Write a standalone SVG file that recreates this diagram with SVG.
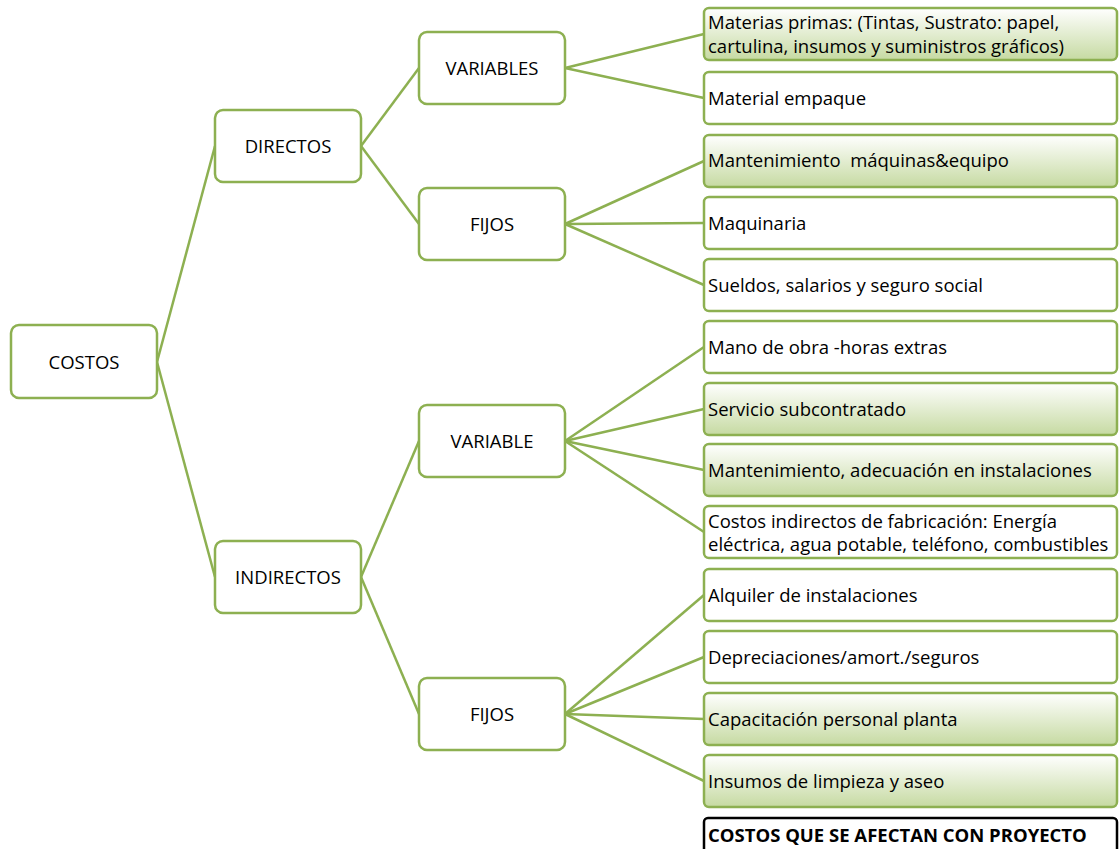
<svg xmlns="http://www.w3.org/2000/svg" width="1120" height="849" viewBox="0 0 1120 849">
<defs>
<linearGradient id="g" x1="0" y1="0" x2="0" y2="1">
<stop offset="0" stop-color="#FFFFFF"/>
<stop offset="1" stop-color="#C6DAA2"/>
</linearGradient>
<style>
.b{fill:#fff;stroke:#8DB051;stroke-width:2.5}
.gr{fill:url(#g);stroke:#8DB051;stroke-width:2.5}
.t{font-family:"Open Sans","Liberation Sans",sans-serif;font-size:18.5px;fill:#000}
.c{text-anchor:middle}
.ln{stroke:#8DB051;stroke-width:2.5;fill:none}
</style>
</defs>
<rect width="1120" height="849" fill="#fff"/>
<g id="connectors" class="ln">
<line x1="157" y1="362" x2="215" y2="146"/>
<line x1="157" y1="362" x2="215" y2="577"/>
<line x1="361" y1="146" x2="419" y2="68"/>
<line x1="361" y1="146" x2="419" y2="224"/>
<line x1="361" y1="577" x2="419" y2="441"/>
<line x1="361" y1="577" x2="419" y2="714"/>
<line x1="565" y1="68" x2="704" y2="34"/>
<line x1="565" y1="68" x2="704" y2="98"/>
<line x1="565" y1="224" x2="704" y2="161"/>
<line x1="565" y1="224" x2="704" y2="223"/>
<line x1="565" y1="224" x2="704" y2="285"/>
<line x1="565" y1="441" x2="704" y2="347"/>
<line x1="565" y1="441" x2="704" y2="409"/>
<line x1="565" y1="441" x2="704" y2="470"/>
<line x1="565" y1="441" x2="704" y2="532"/>
<line x1="565" y1="714" x2="704" y2="595"/>
<line x1="565" y1="714" x2="704" y2="657"/>
<line x1="565" y1="714" x2="704" y2="719"/>
<line x1="565" y1="714" x2="704" y2="781"/>
</g>
<g id="costos"><rect class="b" x="11" y="325" width="146" height="73" rx="8"/><text class="t c" x="84" y="369">COSTOS</text></g>
<g id="directos"><rect class="b" x="215" y="110" width="146" height="72" rx="8"/><text class="t c" x="288" y="153">DIRECTOS</text></g>
<g id="indirectos"><rect class="b" x="215" y="541" width="146" height="72" rx="8"/><text class="t c" x="288" y="584">INDIRECTOS</text></g>
<g id="variables"><rect class="b" x="419" y="32" width="146" height="72" rx="8"/><text class="t c" x="492" y="75">VARIABLES</text></g>
<g id="fijos1"><rect class="b" x="419" y="188" width="146" height="72" rx="8"/><text class="t c" x="492" y="231">FIJOS</text></g>
<g id="variable"><rect class="b" x="419" y="405" width="146" height="72" rx="8"/><text class="t c" x="492" y="448">VARIABLE</text></g>
<g id="fijos2"><rect class="b" x="419" y="678" width="146" height="72" rx="8"/><text class="t c" x="492" y="721">FIJOS</text></g>
<g id="l1"><rect class="gr" x="704" y="8" width="413" height="52" rx="5"/><text class="t" x="708" y="29">Materias primas: (Tintas, Sustrato: papel,</text><text class="t" x="708" y="53">cartulina, insumos y suministros gráficos)</text></g>
<g id="l2"><rect class="b" x="704" y="72" width="413" height="52" rx="5"/><text class="t" x="708" y="105">Material empaque</text></g>
<g id="l3"><rect class="gr" x="704" y="135" width="413" height="52" rx="5"/><text class="t" x="708" y="167">Mantenimiento&#160; máquinas&amp;equipo</text></g>
<g id="l4"><rect class="b" x="704" y="197" width="413" height="52" rx="5"/><text class="t" x="708" y="230">Maquinaria</text></g>
<g id="l5"><rect class="b" x="704" y="259" width="413" height="52" rx="5"/><text class="t" x="708" y="292">Sueldos, salarios y seguro social</text></g>
<g id="l6"><rect class="b" x="704" y="321" width="413" height="52" rx="5"/><text class="t" x="708" y="354">Mano de obra -horas extras</text></g>
<g id="l7"><rect class="gr" x="704" y="383" width="413" height="52" rx="5"/><text class="t" x="708" y="416">Servicio subcontratado</text></g>
<g id="l8"><rect class="gr" x="704" y="444" width="413" height="52" rx="5"/><text class="t" x="708" y="477">Mantenimiento, adecuación en instalaciones</text></g>
<g id="l9"><rect class="b" x="704" y="506" width="413" height="52" rx="5"/><text class="t" x="708" y="528">Costos indirectos de fabricación: Energía</text><text class="t" x="708" y="551">eléctrica, agua potable, teléfono, combustibles</text></g>
<g id="l10"><rect class="b" x="704" y="569" width="413" height="52" rx="5"/><text class="t" x="708" y="602">Alquiler de instalaciones</text></g>
<g id="l11"><rect class="b" x="704" y="631" width="413" height="52" rx="5"/><text class="t" x="708" y="664">Depreciaciones/amort./seguros</text></g>
<g id="l12"><rect class="gr" x="704" y="693" width="413" height="52" rx="5"/><text class="t" x="708" y="726">Capacitación personal planta</text></g>
<g id="l13"><rect class="gr" x="704" y="755" width="413" height="52" rx="5"/><text class="t" x="708" y="788">Insumos de limpieza y aseo</text></g>
<g id="legend"><rect x="704" y="818" width="413" height="40" rx="4" fill="#fff" stroke="#000" stroke-width="2.5"/><text class="t" x="708" y="842" font-weight="bold" font-size="18px">COSTOS QUE SE AFECTAN CON PROYECTO</text></g>
</svg>
